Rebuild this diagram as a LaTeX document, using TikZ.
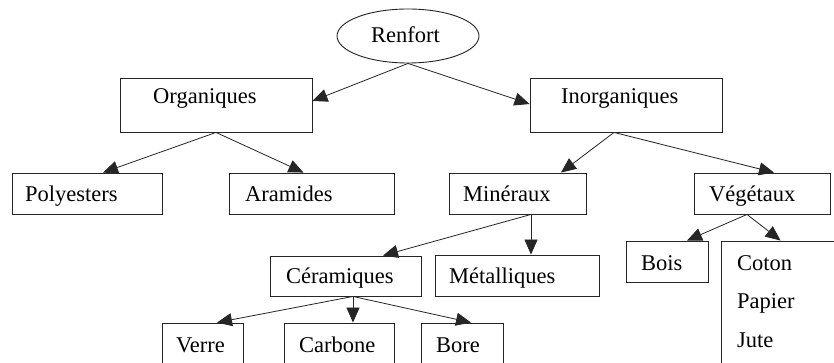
\documentclass[tikz,border=0pt]{standalone}
\usepackage{fontspec}
\setmainfont{Liberation Serif}
\usetikzlibrary{shapes.geometric,arrows.meta,calc}
\tikzset{
  box/.style={draw=black!85, line width=0.9pt, rectangle, inner sep=0pt, fill=none},
  oval/.style={draw=black!85, line width=0.9pt, ellipse, inner sep=0pt},
  txt/.style={inner sep=0pt, anchor=base west, font=\fontsize{22.5}{27}\selectfont},
  arr/.style={draw=black!85, line width=0.8pt, -{Triangle[length=15pt,width=13pt]}},
}
\newcommand{\bx}[5]{\node[box, minimum width=#4-#2, minimum height=#5-#3] (#1) at ({(#2+#4)/2},{(#3+#5)/2}) {};}
\begin{document}
\begin{tikzpicture}[x=1pt,y=-1pt]
\useasboundingbox (0,0) rectangle (834,363);
\clip (0,0) rectangle (834,363);
\fill[white] (0,0) rectangle (834,363);
% nodes
\node[oval, minimum width=142, minimum height=54] (renfort) at (408,36) {};
\node[txt] (renfortT) at (371,43) {Renfort};
\bx{org}{120}{78}{312}{132}
\node[txt] (orgT) at (153,104) {Organiques};
\bx{inorg}{530}{78}{722}{132}
\node[txt] (inorgT) at (561,104) {Inorganiques};
\bx{poly}{12}{173}{162}{214}
\node[txt] (polyT) at (25,202) {Polyesters};
\bx{aram}{229}{173}{394}{214}
\node[txt] (aramT) at (245,202) {Aramides};
\bx{min}{449}{173}{586}{214}
\node[txt] (minT) at (463,202) {Minéraux};
\bx{veg}{694}{173}{830}{214}
\node[txt] (vegT) at (709,202) {Végétaux};
\bx{ceram}{270}{256}{421}{296}
\node[txt] (ceramT) at (286,283) {Céramiques};
\bx{metal}{435}{255}{599}{296}
\node[txt] (metalT) at (449,283) {Métalliques};
\bx{bois}{626}{241}{708}{282}
\node[txt] (boisT) at (641,270) {Bois};
\bx{coton}{721}{241}{860}{390}
\node[txt] (cotonT) at (737,270) {Coton};
\node[txt] (papierT) at (737,308) {Papier};
\node[txt] (juteT) at (737,347) {Jute};
\bx{verre}{162}{323}{243}{390}
\node[txt] (verreT) at (176,352) {Verre};
\bx{carbone}{284}{323}{394}{390}
\node[txt] (carboneT) at (299,352) {Carbone};
\bx{bore}{421}{323}{503}{390}
\node[txt] (boreT) at (436,352) {Bore};
% connectors
\draw[arr] (renfort.south) -- ($(org.east)+(0,-4)$);
\draw[arr] (renfort.south) -- ($(inorg.west)+(0,-1)$);
\draw[arr] (org.south) -- ($(poly.north)+(16,0)$);
\draw[arr] (org.south) -- ($(aram.north)+(-8,0)$);
\draw[arr] ($(inorg.south)+(-12,0)$) -- ($(min.north)+(43.5,0)$);
\draw[arr] ($(inorg.south)+(-12,0)$) -- ($(veg.north)+(12,0)$);
\draw[arr] ($(min.south)+(13.5,0)$) -- ($(ceram.north)+(37.5,0)$);
\draw[arr] ($(min.south)+(13.5,0)$) -- ($(metal.north)+(14,0)$);
\draw[arr] ($(ceram.south)+(7.5,0)$) -- ($(verre.north)+(14.5,0)$);
\draw[arr] ($(ceram.south)+(7.5,0)$) -- ($(carbone.north)+(14,0)$);
\draw[arr] ($(ceram.south)+(7.5,0)$) -- ($(bore.north)+(9,0)$);
\draw[arr] ($(veg.south)+(-15,0)$) -- ($(bois.north)+(20,0)$);
\draw[arr] ($(veg.south)+(-15,0)$) -- ($(coton.north west)+(60,0)$);
\end{tikzpicture}
\end{document}
